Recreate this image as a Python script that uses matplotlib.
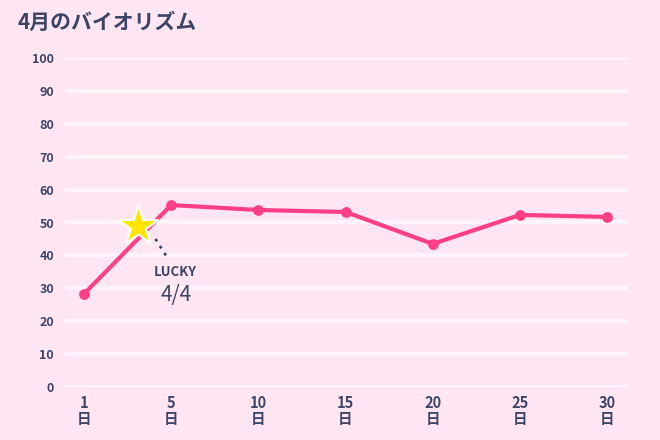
import matplotlib
matplotlib.use("Agg")
import matplotlib.pyplot as plt

plt.rcParams['font.family'] = ['Noto Sans CJK JP', 'DejaVu Sans']

days = ["1", "5", "10", "15", "20", "25", "30"]
values = [28.3, 55.3, 53.8, 53.2, 43.5, 52.3, 51.7]
lucky_pos = 0.62
lucky_value = 49
yticks = list(range(0, 101, 10))

bg = "#FFE6F2"
line_c = "#FF3F85"
text_c = "#3D4566"

fig = plt.figure(figsize=(6.6, 4.4), dpi=100, facecolor=bg)
ax = fig.add_axes([65/660, 53/440, 563/660, 329/440], facecolor=bg)
x = list(range(len(days)))
ax.set_xlim(-0.218, 6.24)
ax.set_ylim(0, 100)
for y in yticks:
    ax.axhline(y, color="#FFF4FA", lw=3, zorder=0)
ax.plot(x, values, color=line_c, lw=3, zorder=3)
ax.scatter(x, values, color=line_c, s=45, zorder=4)
ax.scatter([lucky_pos], [lucky_value], marker='*', s=900, color="#FFE600",
           edgecolor="white", linewidth=1.5, zorder=5)
ax.plot([lucky_pos + 0.2, lucky_pos + 0.32], [lucky_value - 4, lucky_value - 9],
        ls=(0, (1, 2)), color=text_c, lw=2, zorder=4)
ax.text(0.8, 35, "LUCKY", color=text_c, fontsize=9.5, fontweight='bold', ha='left', va='center')
ax.text(0.88, 28, "4/4", color=text_c, fontsize=15, ha='left', va='center')

ax.set_yticks(yticks)
ax.set_yticklabels([str(v) for v in yticks], fontsize=9, color=text_c, fontweight='bold')
ax.set_xticks(x)
ax.set_xticklabels([d + "\n日" for d in days], fontsize=10.5, color=text_c,
                   fontweight='bold', linespacing=1.0)
ax.tick_params(length=0, pad=8)
ax.tick_params(axis='x', pad=6)
for s in ax.spines.values():
    s.set_visible(False)

fig.text(18/660, 1 - 22/440, "4月のバイオリズム", fontsize=15, fontweight='bold',
         color=text_c, va='center', ha='left')
fig.savefig("out.png", dpi=100, facecolor=bg)
